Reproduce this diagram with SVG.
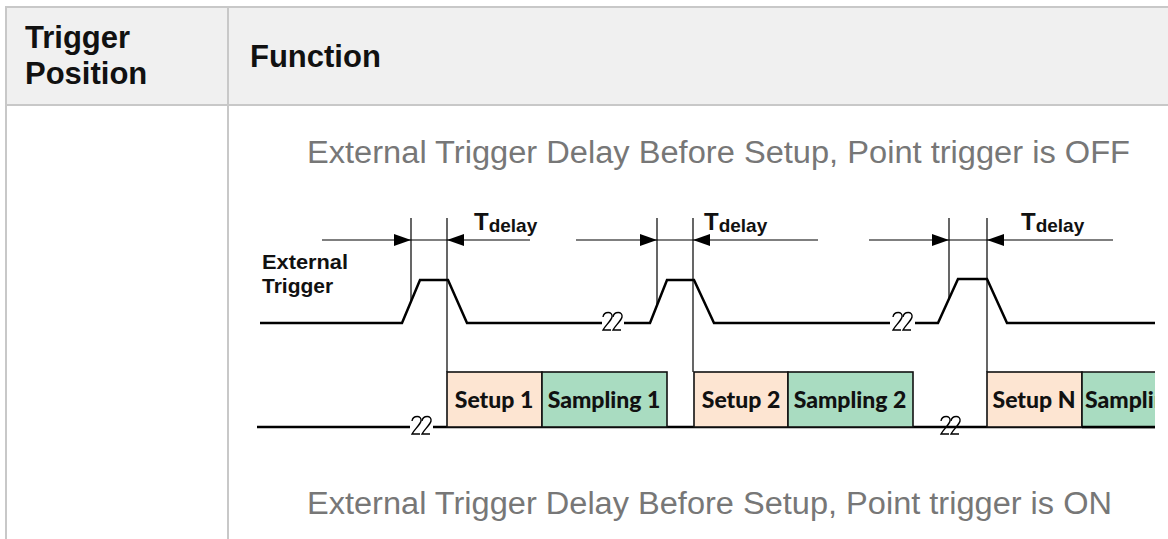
<svg xmlns="http://www.w3.org/2000/svg" width="1168" height="539" viewBox="0 0 1168 539">
<style>
.tb{stroke:#c8c8c8;stroke-width:2;fill:none}
.hd{font-family:"Liberation Sans",Arial,sans-serif;font-weight:bold;font-size:31px;fill:#111}
.sub{font-family:"Liberation Sans",Arial,sans-serif;font-size:31px;fill:#777}
.sig{stroke:#000;stroke-width:2.5;fill:none;stroke-linejoin:miter}
.thin{stroke:#000;stroke-width:1.2;fill:none}
.sq{stroke:#000;stroke-width:1.4;fill:none}
.lbl{font-family:"Liberation Sans",Arial,sans-serif;font-weight:bold;fill:#111}
.box{stroke:#111;stroke-width:1.6}
.setup{fill:#fde5d2}
.samp{fill:#a9dcc1}
.bt{font-family:Lato,"Liberation Sans",sans-serif;font-weight:900;font-size:23px;fill:#111;text-anchor:middle}
</style>
<defs>
<clipPath id="clipR"><rect x="0" y="0" width="1155" height="539"/></clipPath>
<path id="two" d="M0,-6 C1,-12 10,-12 9,-6 C8,-2 2,3 0,7 L8,7"/>
</defs>
<rect x="0" y="0" width="1168" height="539" fill="#fff"/>
<g id="table">
<rect x="7" y="8" width="1161" height="96" fill="#f0f0f0"/>
<line class="tb" x1="5" y1="7" x2="1168" y2="7"/>
<line class="tb" x1="5" y1="105" x2="1168" y2="105"/>
<line class="tb" x1="6" y1="6" x2="6" y2="539"/>
<line class="tb" x1="228" y1="6" x2="228" y2="539"/>
</g>
<g id="header-trigger-position">
<text class="hd" x="25" y="48">Trigger</text>
<text class="hd" x="25" y="84">Position</text>
</g>
<g id="header-function">
<text class="hd" x="250" y="67">Function</text>
</g>
<g id="subtitle-off">
<text class="sub" x="307" y="163" textLength="823" lengthAdjust="spacingAndGlyphs">External Trigger Delay Before Setup, Point trigger is OFF</text>
</g>
<g id="subtitle-on">
<text class="sub" x="307" y="514" textLength="805" lengthAdjust="spacingAndGlyphs">External Trigger Delay Before Setup, Point trigger is ON</text>
</g>
<g id="ext-trigger-label">
<text class="lbl" x="262" y="269" font-size="21" textLength="86" lengthAdjust="spacingAndGlyphs">External</text>
<text class="lbl" x="262" y="293" font-size="21">Trigger</text>
</g>
<g id="connectors">
<path class="sig" d="M260,323 H402 L420,280 H448 L467,323 H602 M624,323 H650 L667,280 H694 L714,323 H890 M915,323 H938 L958,279 H987 L1007,323 H1155"/>
<path class="sig" d="M257,427 H410 M433,427 H1155"/>
<use href="#two" class="sq" x="412" y="427"/>
<use href="#two" class="sq" x="422" y="427"/>
<use href="#two" class="sq" x="603" y="323"/>
<use href="#two" class="sq" x="613" y="323"/>
<use href="#two" class="sq" x="893" y="323"/>
<use href="#two" class="sq" x="903" y="323"/>
<use href="#two" class="sq" x="941" y="427"/>
<use href="#two" class="sq" x="951" y="427"/>
<line class="thin" x1="411" y1="218" x2="411" y2="302"/>
<line class="thin" x1="447" y1="218" x2="447" y2="372"/>
<line class="thin" x1="657" y1="218" x2="657" y2="305"/>
<line class="thin" x1="693" y1="218" x2="693" y2="372"/>
<line class="thin" x1="949" y1="218" x2="949" y2="298"/>
<line class="thin" x1="987" y1="218" x2="987" y2="372"/>
<line class="thin" x1="322" y1="240" x2="530" y2="240"/>
<line class="thin" x1="576" y1="240" x2="818" y2="240"/>
<line class="thin" x1="869" y1="240" x2="1113" y2="240"/>
<polygon points="394,234 411,240 394,246"/>
<polygon points="464,234 447,240 464,246"/>
<polygon points="640,234 657,240 640,246"/>
<polygon points="710,234 693,240 710,246"/>
<polygon points="932,234 949,240 932,246"/>
<polygon points="1004,234 987,240 1004,246"/>
</g>
<g id="tdelay-1"><text class="lbl" x="474" y="230" font-size="24">T<tspan font-size="19" dy="2">delay</tspan></text></g>
<g id="tdelay-2"><text class="lbl" x="704" y="230" font-size="24">T<tspan font-size="19" dy="2">delay</tspan></text></g>
<g id="tdelay-3"><text class="lbl" x="1021" y="230" font-size="24">T<tspan font-size="19" dy="2">delay</tspan></text></g>
<g id="setup-1"><rect class="box setup" x="447" y="372" width="95" height="55"/><text class="bt" x="494" y="408">Setup 1</text></g>
<g id="sampling-1"><rect class="box samp" x="542" y="372" width="125" height="55"/><text class="bt" x="604" y="408">Sampling 1</text></g>
<g id="setup-2"><rect class="box setup" x="694" y="372" width="94" height="55"/><text class="bt" x="741" y="408">Setup 2</text></g>
<g id="sampling-2"><rect class="box samp" x="788" y="372" width="125" height="55"/><text class="bt" x="850" y="408">Sampling 2</text></g>
<g id="setup-n"><rect class="box setup" x="987" y="372" width="95" height="55"/><text class="bt" x="1034" y="408">Setup N</text></g>
<g id="sampling-n" clip-path="url(#clipR)">
<rect class="samp" x="1082" y="372" width="73" height="55"/>
<path class="box" fill="none" d="M1082,427 V372 H1156"/>
<text class="bt" x="1085" y="408" style="text-anchor:start">Sampling N</text>
</g>
<path class="sig" d="M1082,427 H1155"/>
</svg>
